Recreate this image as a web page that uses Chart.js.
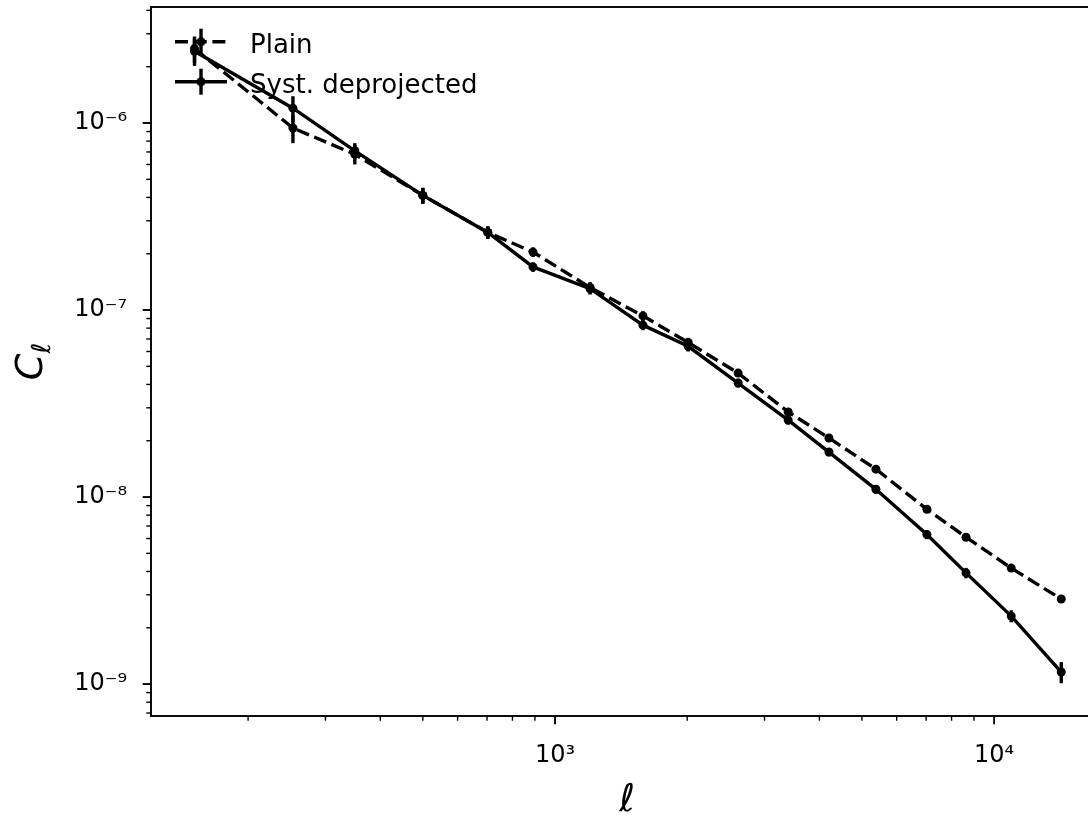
<!DOCTYPE html>
<html>
<head>
<meta charset="utf-8">
<script src="https://cdn.jsdelivr.net/npm/chart.js@4.4.1/dist/chart.umd.min.js"></script>
<style>
    html, body { margin: 0; padding: 0; background: #fff; overflow: hidden; }
    #wrap { position: relative; width: 1120px; height: 816px; }
</style>
</head>
<body>
<div id="wrap"><canvas id="clChart"></canvas></div>
<script>
// multipole bins
const ells = [151, 253, 350, 500, 703, 891, 1202, 1586, 2010, 2612, 3397, 4205, 5380, 7030, 8630, 10940, 14220];

// Plain
const plainCl = [2.5e-6, 9.4e-7, 6.8e-7, 4.1e-7, 2.6e-7, 2.04e-7, 1.32e-7, 9.3e-8, 6.7e-8, 4.6e-8, 2.85e-8, 2.07e-8, 1.41e-8, 8.6e-9, 6.1e-9, 4.17e-9, 2.85e-9];
const plainErr = [4e-7, 1.6e-7, 8e-8, 4e-8, 2e-8, 1.2e-8, 9e-9, 5.5e-9, 4e-9, 2.2e-9, 1.4e-9, 9e-10, 6e-10, 3.5e-10, 2.5e-10, 1.7e-10, 1.2e-10];

// Syst. deprojected
const systCl = [2.42e-6, 1.2e-6, 7.1e-7, 4.1e-7, 2.6e-7, 1.7e-7, 1.3e-7, 8.3e-8, 6.4e-8, 4.07e-8, 2.58e-8, 1.74e-8, 1.1e-8, 6.3e-9, 3.93e-9, 2.31e-9, 1.16e-9];
const systErr = [4e-7, 1.9e-7, 7e-8, 4e-8, 2e-8, 1e-8, 9e-9, 5e-9, 4e-9, 2.2e-9, 1.4e-9, 9e-10, 6e-10, 3.5e-10, 2.5e-10, 1.7e-10, 1.5e-10];

const seriesNames = ['Plain', 'Syst. deprojected'];

// major tick positions and their labels
const xMajorTicks = [1e3, 1e4];
const xTickLabels = ['10³', '10⁴'];
const yMajorTicks = [1e-9, 1e-8, 1e-7, 1e-6];
const yTickLabels = ['10⁻⁹', '10⁻⁸', '10⁻⁷', '10⁻⁶'];

const X_MIN = 120.2, X_MAX = 17700;
const Y_MIN = 6.75e-10, Y_MAX = 4.17e-6;

const FONT = '"DejaVu Sans", sans-serif';
const TICK_PX = 24;
const LEGEND_PX = 26;
const LW = 3.4;
const DASH = [13, 5.7];

function toPoints(xs, ys) {
    return xs.map((x, i) => ({ x: x, y: ys[i] }));
}

// k*10^n ticks between min and max, k==1 is major
function logTicks(min, max) {
    const out = [];
    for (let n = Math.floor(Math.log10(min)); n <= Math.ceil(Math.log10(max)); n++) {
        for (let k = 1; k < 10; k++) {
            const v = k * Math.pow(10, n);
            if (v >= min && v <= max) out.push({ value: v, major: k === 1 });
        }
    }
    return out;
}

function labelFor(value, majors, labels) {
    const idx = majors.findIndex(v => Math.abs(v - value) / v < 1e-6);
    return idx >= 0 ? labels[idx] : '';
}

// vertical error bars
const errorBars = {
    id: 'errorBars',
    beforeDatasetsDraw(chart) {
        const { ctx, scales: { x, y } } = chart;
        ctx.save();
        ctx.strokeStyle = '#000';
        ctx.lineWidth = LW;
        ctx.setLineDash([]);
        chart.data.datasets.forEach(ds => {
            ds.data.forEach((p, i) => {
                const e = ds.errors[i];
                const px = x.getPixelForValue(p.x);
                ctx.beginPath();
                ctx.moveTo(px, y.getPixelForValue(p.y + e));
                ctx.lineTo(px, y.getPixelForValue(p.y - e));
                ctx.stroke();
            });
        });
        ctx.restore();
    }
};

// spines, ticks, axis labels, legend
const decorations = {
    id: 'decorations',
    afterDraw(chart) {
        const { ctx, chartArea: a, scales: { x, y } } = chart;
        ctx.save();
        ctx.strokeStyle = '#000';
        ctx.fillStyle = '#000';

        // spines
        ctx.lineWidth = 1.9;
        ctx.strokeRect(a.left, a.top, a.right - a.left, a.bottom - a.top);

        // ticks
        x.ticks.forEach(t => {
            const px = x.getPixelForValue(t.value);
            ctx.lineWidth = t.major ? 1.9 : 1.4;
            ctx.beginPath();
            ctx.moveTo(px, a.bottom);
            ctx.lineTo(px, a.bottom + (t.major ? 8.3 : 4.7));
            ctx.stroke();
        });
        y.ticks.forEach(t => {
            const py = y.getPixelForValue(t.value);
            ctx.lineWidth = t.major ? 1.9 : 1.4;
            ctx.beginPath();
            ctx.moveTo(a.left, py);
            ctx.lineTo(a.left - (t.major ? 8.3 : 4.7), py);
            ctx.stroke();
        });

        // x label
        ctx.font = 'italic 38px ' + FONT;
        ctx.textAlign = 'center';
        ctx.textBaseline = 'alphabetic';
        ctx.fillText('ℓ', (a.left + a.right) / 2, 811);

        // y label C_ℓ
        ctx.save();
        ctx.translate(42, (a.top + a.bottom) / 2);
        ctx.rotate(-Math.PI / 2);
        ctx.font = 'italic 38px ' + FONT;
        const wC = ctx.measureText('C').width;
        ctx.font = 'italic 26px ' + FONT;
        const wL = ctx.measureText('ℓ').width;
        const x0 = -(wC + wL) / 2;
        ctx.textAlign = 'left';
        ctx.font = 'italic 38px ' + FONT;
        ctx.fillText('C', x0, 0);
        ctx.font = 'italic 26px ' + FONT;
        ctx.fillText('ℓ', x0 + wC, 8);
        ctx.restore();

        // legend
        const rows = [41.7, 81.7];
        chart.data.datasets.forEach((ds, i) => {
            const cy = rows[i];
            ctx.lineWidth = LW;
            ctx.setLineDash(ds.borderDash || []);
            ctx.beginPath();
            ctx.moveTo(175, cy);
            ctx.lineTo(227, cy);
            ctx.stroke();
            ctx.setLineDash([]);
            ctx.beginPath();
            ctx.moveTo(201, cy - 13);
            ctx.lineTo(201, cy + 13);
            ctx.stroke();
            ctx.beginPath();
            ctx.arc(201, cy, 4.5, 0, Math.PI * 2);
            ctx.fill();
            ctx.font = LEGEND_PX + 'px ' + FONT;
            ctx.textAlign = 'left';
            ctx.textBaseline = 'alphabetic';
            ctx.fillStyle = '#000';
            ctx.fillText(ds.label, 250, cy + 11.3);
        });
        ctx.restore();
    }
};

const ctx = document.getElementById('clChart').getContext('2d');
const clChart = new Chart(ctx, {
    type: 'scatter',
    data: {
        datasets: [{
            label: seriesNames[0],
            data: toPoints(ells, plainCl),
            errors: plainErr,
            showLine: true,
            borderColor: '#000',
            borderWidth: LW,
            borderDash: DASH,
            pointRadius: 4.5,
            pointBorderWidth: 0,
            pointBackgroundColor: '#000',
        }, {
            label: seriesNames[1],
            data: toPoints(ells, systCl),
            errors: systErr,
            showLine: true,
            borderColor: '#000',
            borderWidth: LW,
            pointRadius: 4.5,
            pointBorderWidth: 0,
            pointBackgroundColor: '#000',
        }]
    },
    options: {
        responsive: true,
        maintainAspectRatio: false,
        animation: false,
        layout: { padding: { top: 7, right: 17, left: 0, bottom: 0 } },
        plugins: {
            legend: { display: false },
            tooltip: { enabled: false }
        },
        scales: {
            x: {
                type: 'logarithmic',
                min: X_MIN,
                max: X_MAX,
                grid: { display: false, drawTicks: false },
                border: { display: false },
                afterBuildTicks: s => { s.ticks = logTicks(s.min, s.max); },
                afterFit: s => { s.height = 100; s.paddingLeft = 0; s.paddingRight = 0; },
                ticks: {
                    autoSkip: false,
                    maxRotation: 0,
                    minRotation: 0,
                    padding: 25,
                    color: '#000',
                    font: { family: FONT, size: TICK_PX },
                    callback: v => labelFor(v, xMajorTicks, xTickLabels)
                }
            },
            y: {
                type: 'logarithmic',
                min: Y_MIN,
                max: Y_MAX,
                grid: { display: false, drawTicks: false },
                border: { display: false },
                afterBuildTicks: s => { s.ticks = logTicks(s.min, s.max); },
                afterFit: s => { s.width = 151; s.paddingTop = 0; s.paddingBottom = 0; },
                ticks: {
                    autoSkip: false,
                    padding: 24,
                    color: '#000',
                    font: { family: FONT, size: TICK_PX },
                    callback: v => labelFor(v, yMajorTicks, yTickLabels)
                }
            }
        }
    },
    plugins: [errorBars, decorations]
});
</script>
</body>
</html>
